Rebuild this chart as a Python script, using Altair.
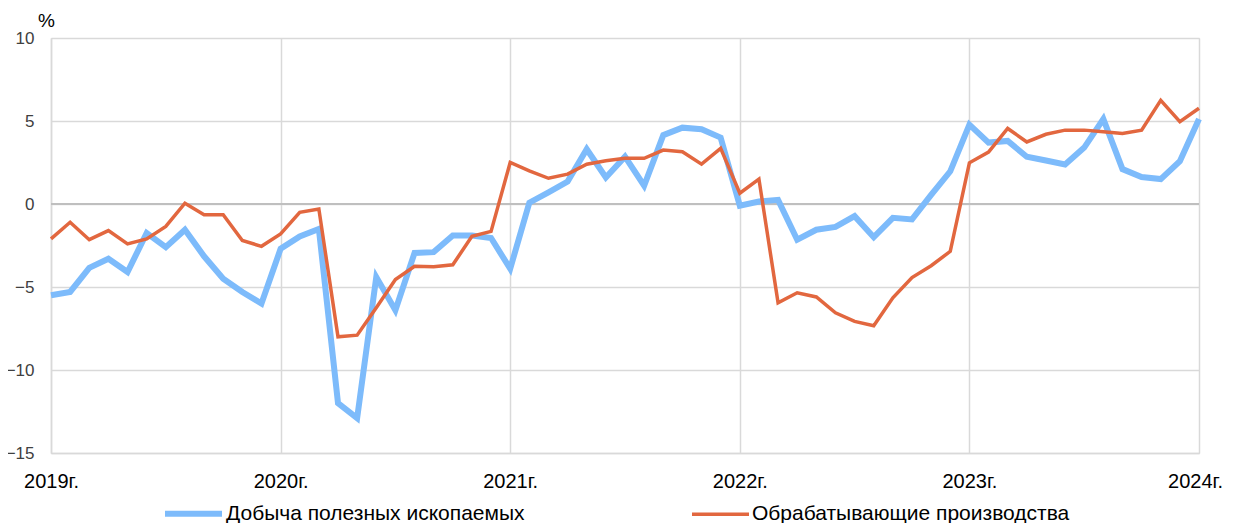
import altair as alt
import pandas as pd

series_names = ["Добыча полезных ископаемых", "Обрабатывающие производства"]

mining = [-5.5, -5.3, -3.85, -3.3, -4.1, -1.75, -2.6, -1.55, -3.15, -4.5,
          -5.3, -6.0, -2.7, -1.95, -1.5, -12.0, -12.9, -4.4, -6.4, -2.95,
          -2.9, -1.9, -1.9, -2.05, -3.9, 0.08, 0.7, 1.35, 3.3, 1.6,
          2.85, 1.1, 4.15, 4.6, 4.5, 4.0, -0.1, 0.15, 0.25, -2.15,
          -1.55, -1.38, -0.73, -2.0, -0.83, -0.93, 0.55, 1.97, 4.78, 3.7,
          3.8, 2.85, 2.62, 2.38, 3.4, 5.12, 2.1, 1.62, 1.5, 2.58, 5.12]

manufacturing = [-2.1, -1.1, -2.15, -1.6, -2.4, -2.1, -1.35, 0.05, -0.65, -0.65,
                 -2.2, -2.55, -1.8, -0.5, -0.3, -8.0, -7.9, -6.25, -4.55, -3.75,
                 -3.78, -3.66, -1.95, -1.65, 2.5, 2.0, 1.55, 1.8, 2.4, 2.6,
                 2.75, 2.75, 3.25, 3.15, 2.4, 3.35, 0.65, 1.5, -5.95, -5.35,
                 -5.6, -6.55, -7.07, -7.33, -5.65, -4.43, -3.72, -2.85, 2.48, 3.13,
                 4.55, 3.74, 4.2, 4.45, 4.45, 4.35, 4.25, 4.45, 6.24, 4.96, 5.77]

years = [2019, 2020, 2021, 2022, 2023, 2024]
y_ticks = [-15, -10, -5, 0, 5, 10]

blue = "#7DBBFB"
orange = "#E2673F"

rows = []
for name, vals in zip(series_names, [mining, manufacturing]):
    for i, v in enumerate(vals):
        rows.append({"t": 2019 + i / 12, "value": v, "series": name})
df = pd.DataFrame(rows)

zero_df = pd.DataFrame({"y": [0]})

lines = alt.Chart(df).mark_line(clip=False).encode(
    x=alt.X("t:Q",
            scale=alt.Scale(domain=[2019, 2024], nice=False, zero=False),
            axis=alt.Axis(values=years, labelExpr="datum.value + 'г.'",
                          title=None, grid=True, gridColor="#d9d9d9", gridWidth=1.5,
                          domainColor="#d9d9d9", domainWidth=1.5, ticks=False,
                          labelFont="Liberation Sans", labelFontSize=20,
                          labelColor="#000000", labelPadding=18,
                          labelOffset={"condition": {"test": "datum.value == 2024", "value": -4}, "value": 0},
                          labelOverlap=False, labelBound=False, labelFlush=False)),
    y=alt.Y("value:Q",
            scale=alt.Scale(domain=[-15, 10], nice=False),
            axis=alt.Axis(values=y_ticks, title="%", titleAngle=0,
                          titleX=-5, titleY=-8, titleAlign="center",
                          titleFont="Liberation Sans", titleFontSize=19,
                          titleFontWeight="normal", titleColor="#000000",
                          grid=True, gridColor="#d9d9d9", gridWidth=1.5,
                          domainColor="#d9d9d9", domainWidth=1.5, ticks=False,
                          labelFont="Liberation Sans", labelFontSize=17,
                          labelColor="#404040", labelPadding=17)),
    color=alt.Color("series:N",
                    scale=alt.Scale(domain=series_names, range=[blue, orange]),
                    legend=alt.Legend(title=None, orient="none", direction="horizontal",
                                      legendX=111, legendY=444,
                                      symbolType="stroke", symbolSize=3249,
                                      symbolStrokeWidth=6,
                                      labelFont="Liberation Sans", labelFontSize=21,
                                      labelColor="#000000", labelOffset=1,
                                      columnPadding=160, labelLimit=500)),
    strokeWidth=alt.StrokeWidth("series:N",
                                scale=alt.Scale(domain=series_names, range=[6, 3.5]),
                                legend=None),
    order=alt.Order("t:Q"),
)

zero = alt.Chart(zero_df).mark_rule(color="#bfbfbf", strokeWidth=2).encode(
    y=alt.Y("y:Q")
)

chart = alt.layer(zero, lines).properties(
    width=1148,
    height=415,
    autosize=alt.AutoSizeParams(type="none"),
    padding={"left": 43, "top": 30, "right": 26, "bottom": 70},
).configure_view(stroke=None).configure(background="white")

chart.save("out.html", embed_options={"renderer": "svg", "actions": False})
